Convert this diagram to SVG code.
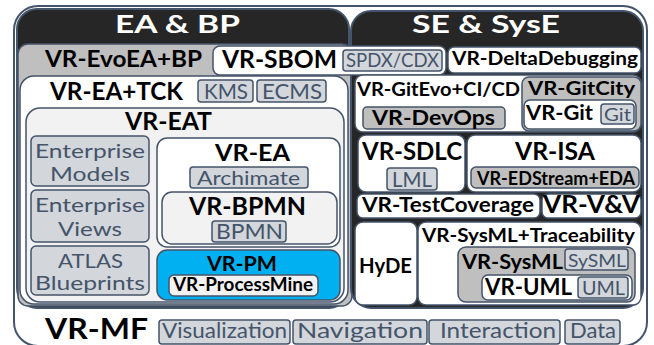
<svg xmlns="http://www.w3.org/2000/svg" width="654" height="345" viewBox="0 0 654 345">
<style>
text{font-family:Lato,"Open Sans","Liberation Sans",sans-serif;}
.b{font-weight:700;fill:#000;}
.h{font-weight:700;fill:#fff;}
.g{font-weight:400;fill:#44546a;}
.tag{fill:#d3d6db;stroke:#44546a;stroke-width:1.5;}
.w{fill:#fff;stroke:#44546a;stroke-width:1.5;}
.gr{fill:#bfbfbf;stroke:#44546a;stroke-width:1.5;}
.dk{fill:#262626;stroke:#44546a;stroke-width:2;}
.lt{fill:#f2f2f2;stroke:#44546a;stroke-width:1.5;}
</style>
<rect width="654" height="345" fill="#fff"/>
<g id="vr-mf">
<rect x="14" y="6" width="633" height="340" rx="24" fill="#fff" stroke="#44546a" stroke-width="2"/>
<text class="b" x="45" y="339" font-size="28" textLength="103" lengthAdjust="spacingAndGlyphs">VR-MF</text>
</g>
<g id="mf-visualization"><rect class="tag" x="159" y="320" width="131" height="24" rx="3"/><text class="g" x="162" y="338" font-size="21" textLength="125" lengthAdjust="spacingAndGlyphs">Visualization</text></g>
<g id="mf-navigation"><rect class="tag" x="293" y="320" width="134" height="24" rx="3"/><text class="g" x="297" y="338" font-size="21" textLength="126" lengthAdjust="spacingAndGlyphs">Navigation</text></g>
<g id="mf-interaction"><rect class="tag" x="429" y="320" width="131" height="24" rx="3"/><text class="g" x="440" y="338" font-size="21" textLength="116" lengthAdjust="spacingAndGlyphs">Interaction</text></g>
<g id="mf-data"><rect class="tag" x="565" y="320" width="55" height="24" rx="3"/><text class="g" x="570" y="338" font-size="21" textLength="46" lengthAdjust="spacingAndGlyphs">Data</text></g>

<g id="ea-bp">
<rect class="dk" x="17" y="9" width="332" height="299" rx="20"/>
<text class="h" x="115" y="33" font-size="24" textLength="125" lengthAdjust="spacingAndGlyphs">EA &amp; BP</text>
</g>
<g id="vr-evoea-bp">
<rect class="gr" x="18" y="44" width="334" height="262" rx="10"/>
<text class="b" x="45" y="67" font-size="22" textLength="157" lengthAdjust="spacingAndGlyphs">VR-EvoEA+BP</text>
</g>
<g id="vr-ea-tck">
<rect class="w" x="20" y="76" width="328" height="228" rx="14"/>
<text class="b" x="50" y="100" font-size="25" textLength="133" lengthAdjust="spacingAndGlyphs">VR-EA+TCK</text>
<rect class="tag" x="198" y="80" width="55" height="22" rx="3"/><text class="g" x="204" y="99" font-size="21" textLength="44" lengthAdjust="spacingAndGlyphs">KMS</text>
<rect class="tag" x="257" y="80" width="69" height="22" rx="3"/><text class="g" x="262" y="99" font-size="21" textLength="60" lengthAdjust="spacingAndGlyphs">ECMS</text>
</g>
<g id="vr-eat">
<rect class="lt" x="26" y="108" width="318" height="194" rx="14"/>
<text class="b" x="125" y="130" font-size="24" textLength="87" lengthAdjust="spacingAndGlyphs">VR-EAT</text>
</g>
<g id="enterprise-models">
<rect class="tag" x="31" y="136" width="118" height="50" rx="5"/>
<text class="g" x="35" y="158" font-size="20" textLength="110" lengthAdjust="spacingAndGlyphs">Enterprise</text>
<text class="g" x="50" y="181" font-size="20" textLength="80" lengthAdjust="spacingAndGlyphs">Models</text>
</g>
<g id="enterprise-views">
<rect class="tag" x="31" y="190" width="118" height="52" rx="5"/>
<text class="g" x="35" y="212" font-size="20" textLength="110" lengthAdjust="spacingAndGlyphs">Enterprise</text>
<text class="g" x="58" y="236" font-size="20" textLength="64" lengthAdjust="spacingAndGlyphs">Views</text>
</g>
<g id="atlas-blueprints">
<rect class="tag" x="31" y="246" width="118" height="49" rx="5"/>
<text class="g" x="58" y="268" font-size="20" textLength="65" lengthAdjust="spacingAndGlyphs">ATLAS</text>
<text class="g" x="35" y="290" font-size="20" textLength="110" lengthAdjust="spacingAndGlyphs">Blueprints</text>
</g>
<g id="vr-ea">
<rect class="w" x="157" y="138" width="183" height="109" rx="10"/>
<text class="b" x="215" y="161" font-size="22" textLength="75" lengthAdjust="spacingAndGlyphs">VR-EA</text>
<rect class="tag" x="190" y="167" width="118" height="21" rx="3"/><text class="g" x="197" y="185" font-size="20" textLength="103" lengthAdjust="spacingAndGlyphs">Archimate</text>
</g>
<g id="vr-bpmn">
<rect class="lt" x="162" y="192" width="175" height="52" rx="10"/>
<text class="b" x="189" y="215" font-size="24" textLength="117" lengthAdjust="spacingAndGlyphs">VR-BPMN</text>
<rect class="tag" x="212" y="221" width="74" height="21" rx="3"/><text class="g" x="216" y="239" font-size="21" textLength="67" lengthAdjust="spacingAndGlyphs">BPMN</text>
</g>
<g id="vr-pm">
<rect x="157" y="250" width="183" height="50" rx="10" fill="#00b0f0" stroke="#44546a" stroke-width="1.5"/>
<text class="b" x="207" y="271" font-size="21" textLength="70" lengthAdjust="spacingAndGlyphs">VR-PM</text>
<rect x="169" y="275" width="149" height="21" rx="5" fill="#f2f2f2" stroke="#44546a" stroke-width="1.5"/>
<text class="b" x="173" y="291" font-size="18" textLength="140" lengthAdjust="spacingAndGlyphs">VR-ProcessMine</text>
</g>

<g id="se-syse">
<rect class="dk" x="351" y="11" width="292" height="297" rx="20"/>
<text class="h" x="412" y="33" font-size="24" textLength="148" lengthAdjust="spacingAndGlyphs">SE &amp; SysE</text>
</g>
<g id="vr-sbom">
<rect class="w" x="213" y="46" width="233" height="29" rx="7"/>
<text class="b" x="222" y="68" font-size="25" textLength="115" lengthAdjust="spacingAndGlyphs">VR-SBOM</text>
<rect class="tag" x="343" y="50" width="99" height="21" rx="3"/><text class="g" x="346" y="67" font-size="19" textLength="93" lengthAdjust="spacingAndGlyphs">SPDX/CDX</text>
</g>
<g id="vr-deltadebugging">
<rect class="w" x="448" y="47" width="193" height="26" rx="6"/>
<text class="b" x="452" y="65" font-size="19" textLength="186" lengthAdjust="spacingAndGlyphs">VR-DeltaDebugging</text>
</g>
<g id="vr-gitevo">
<rect class="w" x="355" y="75" width="286" height="57" rx="8"/>
<text class="b" x="357" y="96" font-size="19" textLength="163" lengthAdjust="spacingAndGlyphs">VR-GitEvo+CI/CD</text>
</g>
<g id="vr-devops">
<rect class="gr" x="363" y="107" width="142" height="22" rx="4"/>
<text class="b" x="372" y="125" font-size="21" textLength="123" lengthAdjust="spacingAndGlyphs">VR-DevOps</text>
</g>
<g id="vr-gitcity">
<rect class="gr" x="522" y="77" width="119" height="54" rx="7"/>
<text class="b" x="528" y="95" font-size="19" textLength="107" lengthAdjust="spacingAndGlyphs">VR-GitCity</text>
</g>
<g id="vr-git">
<rect class="w" x="524" y="100" width="112" height="29" rx="6"/>
<text class="b" x="526" y="120" font-size="20" textLength="67" lengthAdjust="spacingAndGlyphs">VR-Git</text>
<rect class="tag" x="601" y="104" width="33" height="20" rx="3"/><text class="g" x="604" y="121" font-size="18" textLength="27" lengthAdjust="spacingAndGlyphs">Git</text>
</g>
<g id="vr-sdlc">
<rect class="w" x="358" y="135" width="107" height="57" rx="8"/>
<text class="b" x="362" y="160" font-size="24" textLength="100" lengthAdjust="spacingAndGlyphs">VR-SDLC</text>
<rect class="tag" x="387" y="168" width="50" height="22" rx="3"/><text class="g" x="392" y="187" font-size="21" textLength="40" lengthAdjust="spacingAndGlyphs">LML</text>
</g>
<g id="vr-isa">
<rect class="w" x="467" y="135" width="174" height="57" rx="8"/>
<text class="b" x="515" y="160" font-size="24" textLength="80" lengthAdjust="spacingAndGlyphs">VR-ISA</text>
<rect class="gr" x="471" y="167" width="168" height="21" rx="5"/>
<text class="b" x="477" y="185" font-size="18" textLength="158" lengthAdjust="spacingAndGlyphs">VR-EDStream+EDA</text>
</g>
<g id="vr-testcoverage">
<rect class="w" x="357" y="194" width="183" height="24" rx="6"/>
<text class="b" x="362" y="212" font-size="20" textLength="172" lengthAdjust="spacingAndGlyphs">VR-TestCoverage</text>
</g>
<g id="vr-vv">
<rect class="w" x="542" y="194" width="99" height="24" rx="6"/>
<text class="b" x="543" y="213" font-size="24" textLength="97" lengthAdjust="spacingAndGlyphs">VR-V&amp;V</text>
</g>
<g id="hyde">
<rect class="w" x="355" y="222" width="62" height="83" rx="8"/>
<text class="b" x="359" y="273" font-size="21" textLength="53" lengthAdjust="spacingAndGlyphs">HyDE</text>
</g>
<g id="vr-sysml-traceability">
<rect class="w" x="418" y="222" width="223" height="83" rx="8"/>
<text class="b" x="422" y="242" font-size="19" textLength="213" lengthAdjust="spacingAndGlyphs">VR-SysML+Traceability</text>
</g>
<g id="vr-sysml">
<rect class="gr" x="458" y="247" width="177" height="55" rx="8"/>
<text class="b" x="462" y="269" font-size="21" textLength="101" lengthAdjust="spacingAndGlyphs">VR-SysML</text>
<rect class="tag" x="565" y="249" width="63" height="21" rx="3"/><text class="g" x="568" y="267" font-size="18" textLength="58" lengthAdjust="spacingAndGlyphs">SySML</text>
</g>
<g id="vr-uml">
<rect class="w" x="482" y="275" width="150" height="25" rx="6"/>
<text class="b" x="485" y="295" font-size="22" textLength="87" lengthAdjust="spacingAndGlyphs">VR-UML</text>
<rect class="tag" x="578" y="277" width="50" height="21" rx="3"/><text class="g" x="582" y="295" font-size="20" textLength="43" lengthAdjust="spacingAndGlyphs">UML</text>
</g>
<g id="connectors"/>
</svg>
